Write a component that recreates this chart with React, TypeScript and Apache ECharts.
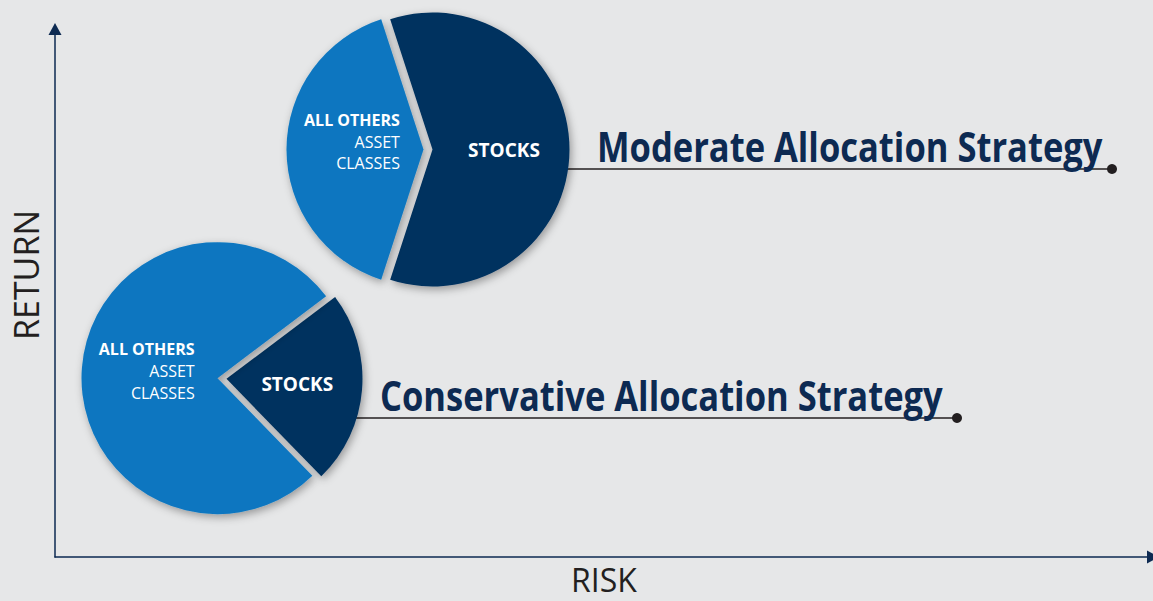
import React, { useEffect, useRef } from 'react';
import * as echarts from 'echarts';

// ---- data ----
const strategies = ['Moderate Allocation Strategy', 'Conservative Allocation Strategy'];
const sliceNames = ['STOCKS', 'ALL OTHERS ASSET CLASSES'];
const othersLabelLines = ['ALL OTHERS', 'ASSET', 'CLASSES'];
const stocksShare = [60, 23];
const othersShare = [40, 77];
const axisNames = ['RISK', 'RETURN'];

// ---- layout / style ----
const pieLayout = [
  { center: [428, 149.5], radius: 137, startAngle: 108, othersPad: [0, 0, 16, 0] },
  { center: [222, 378.5], radius: 136, startAngle: 37, othersPad: [0, 0, 4, 0] },
];
const leaders = [
  { x1: 566, x2: 1112, y: 169, tx: 597, ty: 146 },
  { x1: 354, x2: 957, y: 418, tx: 380, ty: 395 },
];
const stocksColor = '#06325e';
const othersColor = '#0a76c0';
const navy = '#0d2a52';
const ink = '#231f20';

export default function App() {
  const ref = useRef<HTMLDivElement>(null);
  useEffect(() => {
    document.body.style.margin = '0';
    const chart = echarts.init(ref.current!, null, { renderer: 'svg' });

    const pieSeries = strategies.map((s, i) => ({
      type: 'pie',
      name: s,
      center: pieLayout[i].center,
      radius: pieLayout[i].radius,
      startAngle: pieLayout[i].startAngle,
      clockwise: true,
      selectedMode: 'multiple',
      selectedOffset: 4.5,
      silent: true,
      emphasis: { disabled: true },
      itemStyle: {
        shadowBlur: 9,
        shadowColor: 'rgba(0,0,0,0.35)',
        shadowOffsetX: 2,
        shadowOffsetY: 3,
      },
      label: {
        show: true,
        position: 'inside',
        fontFamily: 'Open Sans',
        formatter: (p: any) =>
          p.name === sliceNames[0]
            ? `{s|${p.name}}`
            : `{b|${othersLabelLines[0]}}\n{n|${othersLabelLines[1]}}\n{n|${othersLabelLines[2]}}`,
        rich: {
          s: { fontFamily: 'Open Sans', fontWeight: 'bold', fontSize: 19, color: '#ffffff' },
          b: { fontFamily: 'Open Sans', fontWeight: 'bold', fontSize: 16, color: '#ffffff', align: 'right', lineHeight: 21.8 },
          n: { fontFamily: 'Open Sans', fontSize: 16, color: '#ffffff', align: 'right', lineHeight: 21.8 },
        },
      },
      labelLine: { show: false },
      data: [
        { name: sliceNames[0], value: stocksShare[i], selected: true, itemStyle: { color: stocksColor } },
        {
          name: sliceNames[1],
          value: othersShare[i],
          selected: true,
          itemStyle: { color: othersColor },
          label: { padding: pieLayout[i].othersPad },
        },
      ],
    }));

    const graphics: any[] = [];
    leaders.forEach((l, i) => {
      graphics.push({
        type: 'line',
        shape: { x1: l.x1, y1: l.y, x2: l.x2, y2: l.y },
        style: { stroke: ink, lineWidth: 1.5 },
      });
      graphics.push({
        type: 'circle',
        shape: { cx: l.x2, cy: l.y, r: 5 },
        style: { fill: ink },
      });
      graphics.push({
        type: 'text',
        x: l.tx,
        y: l.ty,
        scaleX: 0.822,
        style: {
          text: strategies[i],
          x: 0,
          y: 0,
          fontFamily: 'Open Sans',
          fontWeight: 'bold',
          fontSize: 42,
          fill: navy,
          textAlign: 'left',
          textVerticalAlign: 'middle',
        },
      });
    });

    chart.setOption({
      animation: false,
      backgroundColor: '#e6e7e8',
      grid: { left: 55, right: 0, top: 29, bottom: 44, containLabel: false, outerBoundsMode: 'none' },
      xAxis: {
        type: 'value',
        min: 0,
        max: 100,
        name: axisNames[0],
        nameLocation: 'middle',
        nameGap: 6,
        nameTextStyle: { fontFamily: 'Open Sans', fontSize: 32, color: ink },
        axisLine: { show: true, onZero: false, symbol: ['none', 'triangle'], symbolSize: [13, 12], lineStyle: { color: navy, width: 1.5 } },
        axisTick: { show: false },
        axisLabel: { show: false },
        splitLine: { show: false },
      },
      yAxis: {
        type: 'value',
        min: 0,
        max: 100,
        name: axisNames[1],
        nameLocation: 'middle',
        nameGap: 12,
        nameRotate: 90,
        nameTextStyle: { fontFamily: 'Open Sans', fontSize: 34, color: ink, padding: [0, 0, 0, 36] },
        axisLine: { show: true, onZero: false, symbol: ['none', 'triangle'], symbolSize: [13, 12], lineStyle: { color: navy, width: 1.5 } },
        axisTick: { show: false },
        axisLabel: { show: false },
        splitLine: { show: false },
      },
      series: pieSeries,
      graphic: graphics,
    });

    return () => chart.dispose();
  }, []);
  return <div ref={ref} style={{ width: 1153, height: 601 }} />;
}
